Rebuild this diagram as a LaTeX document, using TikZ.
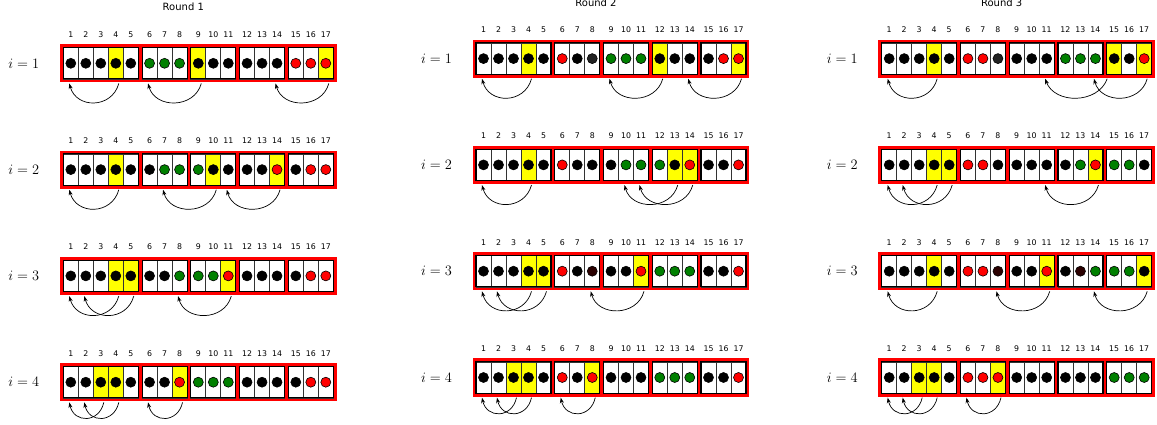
\documentclass[tikz,border=0pt]{standalone}
\usepackage{fontspec}
\newfontfamily\dejavu{DejaVu Sans}
\usetikzlibrary{arrows.meta,calc,backgrounds}
\definecolor{cgreen}{HTML}{008000}
\definecolor{cred}{HTML}{FF0000}
\definecolor{cyellow}{HTML}{FFFF00}
\definecolor{cdark}{HTML}{222222}
\definecolor{cbrown}{HTML}{2B0000}
\definecolor{cborder}{HTML}{333333}
\tikzset{
  cellbase/.style={draw=cborder, line width=0.7pt, minimum width=15pt, minimum height=31.3pt, inner sep=0pt, outer sep=0pt, fill=white},
  dotbase/.style={circle, draw=black, line width=0.6pt, minimum size=10pt, inner sep=0pt},
  cell-k/.style={}, cell-g/.style={}, cell-r/.style={}, cell-d/.style={}, cell-b/.style={},
  cell-K/.style={fill=cyellow}, cell-G/.style={fill=cyellow}, cell-R/.style={fill=cyellow}, cell-D/.style={fill=cyellow}, cell-B/.style={fill=cyellow},
  dot-k/.style={fill=black}, dot-K/.style={fill=black},
  dot-g/.style={fill=cgreen}, dot-G/.style={fill=cgreen},
  dot-r/.style={fill=cred}, dot-R/.style={fill=cred},
  dot-d/.style={fill=cdark}, dot-D/.style={fill=cdark},
  dot-b/.style={fill=cbrown}, dot-B/.style={fill=cbrown},
  num/.style={font=\dejavu\fontsize{7.8}{9}\selectfont, inner sep=0pt, anchor=base},
  lab/.style={font=\fontsize{13.5}{15}\selectfont, inner sep=0pt},
  titlelab/.style={font=\dejavu\fontsize{10}{12}\selectfont, inner sep=0pt},
  redbox/.style={draw=cred, line width=3.4pt},
  blockline/.style={draw=black, line width=1.1pt},
  arcline/.style={draw=black, line width=0.7pt, -{Stealth[length=5.5pt,width=4pt]}}
}
\newcommand\myrow[6]{%
  \node[lab] (l#1-#2) at ({#3-39.5},#4) {$i=#2$};
  \foreach \c [count=\j] in {#5} {
    \pgfmathsetmacro\xx{#3+(\j-0.5)*15+3.75*((\j>5)+(\j>8)+(\j>11)+(\j>14))}
    \node[cellbase,cell-\c] (c#1-#2-\j) at (\xx,#4) {};
    \node[dotbase,dot-\c] (d#1-#2-\j) at (c#1-#2-\j.center) {};
    \node[num] (n#1-#2-\j) at (\xx,{#4-26.2}) {\j};
  }
  \foreach \a/\b in {1/5,6/8,9/11,12/14,15/17} {
    \begin{scope}[on background layer]
      \draw[redbox] ([shift={(-1.7pt,1.7pt)}]c#1-#2-\a.north west) rectangle ([shift={(1.7pt,-1.7pt)}]c#1-#2-\b.south east);
    \end{scope}
    \draw[blockline] (c#1-#2-\a.north west) rectangle (c#1-#2-\b.south east);
  }
  \foreach \s/\t/\sx in {#6} {
    \pgfmathsetmacro\dist{\s-\t}
    \pgfmathsetmacro\dy{min(12+4.5*\dist,25.5)}
    \pgfmathsetmacro\dx{2.3*\dist}
    \coordinate (s#1-#2-\s) at ([xshift=\sx pt,yshift=-4.5pt]c#1-#2-\s.south);
    \coordinate (e#1-#2-\s) at ([xshift=-1.5pt,yshift=-4.5pt]c#1-#2-\t.south);
    \draw[arcline] (s#1-#2-\s) .. controls ($(s#1-#2-\s)+(-\dx,\dy)$) and ($(e#1-#2-\s)+(\dx,\dy)$) .. (e#1-#2-\s);
  }
}
\begin{document}
\begin{tikzpicture}[x=1pt,y=-1pt]
\useasboundingbox (0,0) rectangle (1157,425);
% Round 1
\node[titlelab] (t1) at (183.3,7) {Round 1};
\myrow{1}{1}{63.3}{63.3}{k,k,k,K,k,g,g,g,K,k,k,k,k,k,r,r,R}{4/1/3,9/6/3,17/14/3}
\myrow{1}{2}{63.3}{169.6}{k,k,k,K,k,k,g,g,g,K,k,k,k,R,k,r,r}{4/1/3,10/7/3,14/11/3}
\myrow{1}{3}{63.3}{275.9}{k,k,k,K,K,k,k,g,g,g,R,k,k,k,k,r,r}{4/1/3,5/2/3,11/8/3}
\myrow{1}{4}{63.3}{382.2}{k,k,K,K,k,k,k,R,g,g,g,k,k,k,k,r,r}{3/1/3,4/2/3,8/6/3}
% Round 2
\node[titlelab] (t2) at (596,2.3) {Round 2};
\myrow{2}{1}{476}{58.6}{k,k,k,K,k,r,k,d,g,g,g,K,k,k,k,r,R}{4/1/3,12/9/3,17/14/3}
\myrow{2}{2}{476}{164.9}{k,k,k,K,k,r,k,k,k,g,g,g,K,R,k,k,r}{4/1/3,13/10/3,14/11/3}
\myrow{2}{3}{476}{271.2}{k,k,k,K,K,r,k,b,k,k,R,g,g,g,k,k,r}{4/1/3,5/2/3,11/8/3}
\myrow{2}{4}{476}{377.5}{k,k,K,K,k,r,k,R,k,k,k,g,g,g,k,k,r}{3/1/3,4/2/3,8/6/3}
% Round 3
\node[titlelab] (t3) at (1001.7,2.3) {Round 3};
\myrow{3}{1}{881.7}{58.6}{k,k,k,K,k,r,r,d,k,k,k,g,g,g,K,k,R}{4/1/3,15/11/-7,17/14/3}
\myrow{3}{2}{881.7}{164.9}{k,k,k,K,K,r,r,k,k,k,k,k,g,R,g,g,k}{4/1/3,5/2/3,14/11/3}
\myrow{3}{3}{881.7}{271.2}{k,k,k,K,k,r,r,b,k,k,R,k,b,g,g,g,K}{4/1/3,11/8/3,17/14/3}
\myrow{3}{4}{881.7}{377.5}{k,k,K,K,k,r,r,R,k,k,k,k,k,k,g,g,g}{3/1/3,4/2/3,8/6/3}
\end{tikzpicture}
\end{document}
